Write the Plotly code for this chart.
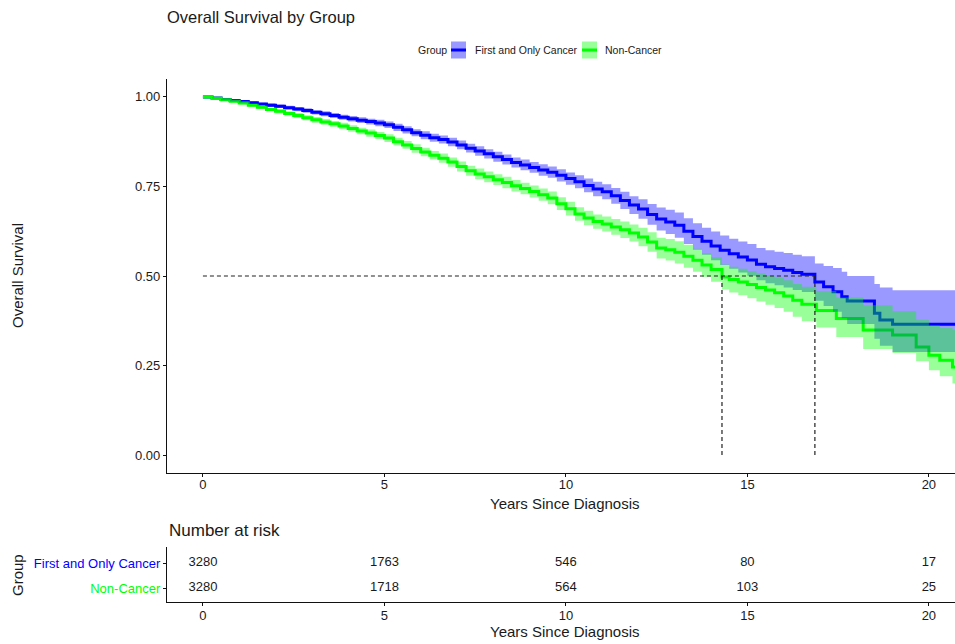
import plotly.graph_objects as go

# ---------------- data ----------------
group_names = ["First and Only Cancer", "Non-Cancer"]
legend_title = "Group"

blue_time = [0.00, 0.25, 0.50, 0.75, 1.00, 1.25, 1.50, 1.75, 2.00, 2.25, 2.50, 2.75,
             3.00, 3.25, 3.50, 3.75, 4.00, 4.25, 4.50, 4.75, 5.00, 5.25, 5.50, 5.75,
             6.00, 6.25, 6.50, 6.75, 7.00, 7.25, 7.50, 7.75, 8.00, 8.25, 8.50, 8.75,
             9.00, 9.25, 9.50, 9.75, 10.00, 10.25, 10.50, 10.75, 11.00, 11.25, 11.50, 11.75,
             12.00, 12.25, 12.50, 12.75, 13.00, 13.25, 13.50, 13.75, 14.00, 14.25, 14.50, 14.75,
             15.00, 15.25, 15.50, 15.75, 16.00, 16.25, 16.50, 16.86, 17.10, 17.36, 17.60, 17.75,
             18.50, 18.65, 19.00, 20.80]
blue_surv = [1.000, 0.997, 0.993, 0.990, 0.987, 0.984, 0.980, 0.977, 0.974, 0.970, 0.966, 0.962,
             0.957, 0.953, 0.948, 0.943, 0.939, 0.935, 0.931, 0.927, 0.922, 0.915, 0.908, 0.900,
             0.893, 0.886, 0.881, 0.874, 0.866, 0.857, 0.849, 0.841, 0.833, 0.825, 0.817, 0.810,
             0.803, 0.796, 0.790, 0.781, 0.772, 0.763, 0.753, 0.743, 0.735, 0.724, 0.711, 0.698,
             0.687, 0.672, 0.659, 0.651, 0.642, 0.625, 0.610, 0.597, 0.584, 0.572, 0.562, 0.553,
             0.545, 0.533, 0.526, 0.521, 0.516, 0.510, 0.505, 0.483, 0.470, 0.456, 0.442, 0.430,
             0.396, 0.377, 0.365, 0.365]
blue_lower = [1.000, 0.996, 0.991, 0.987, 0.984, 0.980, 0.976, 0.972, 0.969, 0.965, 0.960, 0.956,
              0.951, 0.946, 0.941, 0.936, 0.931, 0.927, 0.923, 0.918, 0.913, 0.905, 0.898, 0.890,
              0.882, 0.875, 0.870, 0.862, 0.854, 0.845, 0.836, 0.828, 0.819, 0.811, 0.803, 0.795,
              0.788, 0.780, 0.774, 0.764, 0.755, 0.745, 0.734, 0.723, 0.714, 0.702, 0.687, 0.673,
              0.660, 0.643, 0.627, 0.617, 0.607, 0.589, 0.573, 0.559, 0.544, 0.531, 0.520, 0.510,
              0.501, 0.488, 0.480, 0.474, 0.468, 0.461, 0.455, 0.431, 0.416, 0.400, 0.382, 0.366,
              0.325, 0.305, 0.288, 0.288]
blue_upper = [1.000, 0.998, 0.995, 0.993, 0.990, 0.988, 0.984, 0.982, 0.979, 0.975, 0.972, 0.968,
              0.963, 0.960, 0.955, 0.950, 0.947, 0.943, 0.939, 0.936, 0.931, 0.925, 0.918, 0.910,
              0.904, 0.897, 0.892, 0.886, 0.878, 0.869, 0.862, 0.854, 0.847, 0.839, 0.831, 0.825,
              0.818, 0.812, 0.806, 0.798, 0.789, 0.781, 0.772, 0.763, 0.756, 0.746, 0.735, 0.723,
              0.714, 0.701, 0.691, 0.685, 0.677, 0.661, 0.647, 0.635, 0.624, 0.613, 0.604, 0.596,
              0.589, 0.578, 0.572, 0.568, 0.564, 0.559, 0.555, 0.535, 0.528, 0.522, 0.512, 0.500,
              0.478, 0.468, 0.460, 0.460]

green_time = [0.00, 0.25, 0.50, 0.75, 1.00, 1.25, 1.50, 1.75, 2.00, 2.25, 2.50, 2.75,
              3.00, 3.25, 3.50, 3.75, 4.00, 4.25, 4.50, 4.75, 5.00, 5.25, 5.50, 5.75,
              6.00, 6.25, 6.50, 6.75, 7.00, 7.25, 7.50, 7.75, 8.00, 8.25, 8.50, 8.75,
              9.00, 9.25, 9.50, 9.75, 10.00, 10.25, 10.50, 10.75, 11.00, 11.25, 11.50, 11.75,
              12.00, 12.25, 12.50, 12.75, 13.00, 13.25, 13.50, 13.75, 14.00, 14.30, 14.50, 14.75,
              15.00, 15.25, 15.50, 15.75, 16.00, 16.25, 16.50, 16.90, 17.45, 18.19, 19.00, 19.65,
              20.00, 20.30, 20.65, 20.80]
green_surv = [1.000, 0.996, 0.992, 0.988, 0.983, 0.977, 0.971, 0.965, 0.960, 0.954, 0.948, 0.942,
              0.936, 0.930, 0.925, 0.919, 0.912, 0.905, 0.899, 0.892, 0.885, 0.875, 0.866, 0.856,
              0.846, 0.837, 0.829, 0.818, 0.806, 0.794, 0.785, 0.777, 0.769, 0.761, 0.752, 0.744,
              0.736, 0.727, 0.718, 0.702, 0.688, 0.673, 0.662, 0.652, 0.645, 0.637, 0.629, 0.620,
              0.609, 0.595, 0.578, 0.573, 0.566, 0.555, 0.544, 0.531, 0.518, 0.497, 0.490, 0.483,
              0.476, 0.468, 0.461, 0.453, 0.444, 0.432, 0.421, 0.404, 0.381, 0.349, 0.335, 0.302,
              0.279, 0.265, 0.246, 0.246]
green_lower = [1.000, 0.995, 0.990, 0.985, 0.979, 0.973, 0.966, 0.960, 0.954, 0.948, 0.941, 0.935,
               0.928, 0.922, 0.917, 0.910, 0.903, 0.896, 0.889, 0.882, 0.874, 0.864, 0.855, 0.844,
               0.834, 0.825, 0.816, 0.805, 0.792, 0.780, 0.770, 0.762, 0.754, 0.745, 0.736, 0.728,
               0.719, 0.710, 0.700, 0.684, 0.669, 0.654, 0.642, 0.632, 0.624, 0.615, 0.606, 0.596,
               0.583, 0.568, 0.549, 0.543, 0.535, 0.523, 0.512, 0.498, 0.484, 0.462, 0.454, 0.446,
               0.438, 0.429, 0.420, 0.411, 0.400, 0.386, 0.374, 0.356, 0.330, 0.296, 0.285, 0.262,
               0.237, 0.220, 0.200, 0.200]
green_upper = [1.000, 0.997, 0.994, 0.991, 0.987, 0.981, 0.976, 0.970, 0.966, 0.960, 0.955, 0.949,
               0.944, 0.938, 0.933, 0.928, 0.921, 0.914, 0.909, 0.902, 0.896, 0.886, 0.877, 0.868,
               0.858, 0.849, 0.842, 0.831, 0.820, 0.808, 0.800, 0.792, 0.784, 0.777, 0.768, 0.760,
               0.753, 0.744, 0.736, 0.720, 0.707, 0.692, 0.682, 0.672, 0.666, 0.659, 0.652, 0.644,
               0.635, 0.622, 0.607, 0.603, 0.597, 0.587, 0.576, 0.564, 0.552, 0.532, 0.526, 0.520,
               0.514, 0.507, 0.502, 0.495, 0.488, 0.478, 0.470, 0.458, 0.440, 0.418, 0.402, 0.378,
               0.362, 0.355, 0.350, 0.350]

risk_times = [0, 5, 10, 15, 20]
risk_first = [3280, 1763, 546, 80, 17]
risk_non = [3280, 1718, 564, 103, 25]

x_ticks = [0, 5, 10, 15, 20]
y_ticks = [0.0, 0.25, 0.5, 0.75, 1.0]
y_tick_labels = ["0.00", "0.25", "0.50", "0.75", "1.00"]

# ---------------- style ----------------
BLUE = "#0000FF"
GREEN = "#00FF00"
BLUE_FILL = "rgba(0,0,255,0.4)"
GREEN_FILL = "rgba(0,255,0,0.4)"
FONT = "Liberation Sans, Arial, sans-serif"
INK = "#1a1a1a"

W, H = 955, 644
ML, MR, MT, MB = 167, 0, 79, 42
PW, PH = W - ML - MR, H - MT - MB


def px_x(px):
    """reference-image pixel x -> paper x"""
    return (px - ML) / PW


def px_y(py):
    """reference-image pixel y -> paper y"""
    return (H - MB - py) / PH


def median_time(t, s):
    for ti, si in zip(t, s):
        if si <= 0.5:
            return ti
    return None


fig = go.Figure()

# survival lines first (ribbons drawn over them, as in the reference)
fig.add_trace(go.Scatter(x=blue_time, y=blue_surv, mode="lines", line=dict(color=BLUE, width=3, shape="hv"),
                         name=group_names[0], showlegend=False, hoverinfo="skip"))
fig.add_trace(go.Scatter(x=green_time, y=green_surv, mode="lines", line=dict(color=GREEN, width=3, shape="hv"),
                         name=group_names[1], showlegend=False, hoverinfo="skip"))
# ribbons
fig.add_trace(go.Scatter(x=blue_time, y=blue_lower, mode="lines", line=dict(width=0, shape="hv", color=BLUE),
                         showlegend=False, hoverinfo="skip"))
fig.add_trace(go.Scatter(x=blue_time, y=blue_upper, mode="lines", line=dict(width=0, shape="hv", color=BLUE),
                         fill="tonexty", fillcolor=BLUE_FILL, showlegend=False, hoverinfo="skip"))
fig.add_trace(go.Scatter(x=green_time, y=green_lower, mode="lines", line=dict(width=0, shape="hv", color=GREEN),
                         showlegend=False, hoverinfo="skip"))
fig.add_trace(go.Scatter(x=green_time, y=green_upper, mode="lines", line=dict(width=0, shape="hv", color=GREEN),
                         fill="tonexty", fillcolor=GREEN_FILL, showlegend=False, hoverinfo="skip"))

# risk table
fig.add_trace(go.Scatter(x=risk_times, y=[2] * len(risk_times), mode="text",
                         text=[str(v) for v in risk_first], textfont=dict(size=13, color=INK, family=FONT),
                         xaxis="x2", yaxis="y2", showlegend=False, hoverinfo="skip"))
fig.add_trace(go.Scatter(x=risk_times, y=[1] * len(risk_times), mode="text",
                         text=[str(v) for v in risk_non], textfont=dict(size=13, color=INK, family=FONT),
                         xaxis="x2", yaxis="y2", showlegend=False, hoverinfo="skip"))

# median lines
med_b = median_time(blue_time, blue_surv)
med_g = median_time(green_time, green_surv)
dash = dict(color="#222222", width=1.2, dash="4px,3px")
shapes = [
    dict(type="line", xref="x", yref="y", x0=0, x1=max(med_b, med_g), y0=0.5, y1=0.5, line=dash),
    dict(type="line", xref="x", yref="y", x0=med_g, x1=med_g, y0=0, y1=0.5, line=dash),
    dict(type="line", xref="x", yref="y", x0=med_b, x1=med_b, y0=0, y1=0.5, line=dash),
]

# manual legend (ggplot style: filled key with line)
key_y0, key_y1 = px_y(58.5), px_y(41.5)
for (kx0, kx1), fc, lc in [((451, 466), BLUE_FILL, BLUE), ((582, 597), GREEN_FILL, GREEN)]:
    shapes.append(dict(type="rect", xref="paper", yref="paper", x0=px_x(kx0), x1=px_x(kx1),
                       y0=key_y0, y1=key_y1, fillcolor=fc, line=dict(width=0)))
    shapes.append(dict(type="line", xref="paper", yref="paper", x0=px_x(kx0), x1=px_x(kx1),
                       y0=px_y(50), y1=px_y(50), line=dict(color=lc, width=3)))

annotations = [
    dict(text=legend_title, x=px_x(416), y=px_y(50), xref="paper", yref="paper", xanchor="left",
         yanchor="middle", showarrow=False, font=dict(size=10.5, color=INK, family=FONT)),
    dict(text=group_names[0], x=px_x(473), y=px_y(50), xref="paper", yref="paper", xanchor="left",
         yanchor="middle", showarrow=False, font=dict(size=10.5, color=INK, family=FONT)),
    dict(text=group_names[1], x=px_x(603), y=px_y(50), xref="paper", yref="paper", xanchor="left",
         yanchor="middle", showarrow=False, font=dict(size=10.5, color=INK, family=FONT)),
    dict(text="Overall Survival", x=px_x(17), y=px_y(276), xref="paper", yref="paper", textangle=-90,
         xanchor="center", yanchor="middle", showarrow=False, font=dict(size=15, color=INK, family=FONT)),
    dict(text="Years Since Diagnosis", x=px_x(565), y=px_y(503), xref="paper", yref="paper",
         xanchor="center", yanchor="middle", showarrow=False, font=dict(size=15, color=INK, family=FONT)),
    dict(text="Number at risk", x=0, y=px_y(530), xref="paper", yref="paper",
         xanchor="left", yanchor="middle", showarrow=False, font=dict(size=17, color=INK, family=FONT)),
    dict(text="Group", x=px_x(17), y=px_y(575), xref="paper", yref="paper", textangle=-90,
         xanchor="center", yanchor="middle", showarrow=False, font=dict(size=15, color=INK, family=FONT)),
    dict(text="Years Since Diagnosis", x=px_x(565), y=px_y(631), xref="paper", yref="paper",
         xanchor="center", yanchor="middle", showarrow=False, font=dict(size=15, color=INK, family=FONT)),
]

axis_common = dict(showgrid=False, zeroline=False, showline=True, linecolor="#111111", linewidth=1.2,
                   ticks="outside", ticklen=3, tickcolor="#111111", tickwidth=1,
                   tickfont=dict(size=13, color=INK, family=FONT))

fig.update_layout(
    width=W, height=H,
    margin=dict(l=ML, r=MR, t=MT, b=MB),
    paper_bgcolor="white", plot_bgcolor="white",
    font=dict(family=FONT, color=INK),
    title=dict(text="Overall Survival by Group", x=167 / W, xref="container",
               xanchor="left", y=1 - 17 / H, yanchor="middle",
               font=dict(size=16.5, color=INK, family=FONT)),
    xaxis=dict(domain=[0, 1], range=[-0.99, 20.72], tickvals=x_ticks, anchor="y",
               ticklabelstandoff=-4, **axis_common),
    yaxis=dict(domain=[px_y(473), 1], range=[-0.05, 1.05], tickvals=y_ticks, ticktext=y_tick_labels,
               anchor="x", **axis_common),
    xaxis2=dict(domain=[0, 1], range=[-0.99, 20.72], tickvals=x_ticks, anchor="y2",
                ticklabelstandoff=-2, **axis_common),
    yaxis2=dict(domain=[0, px_y(547)], range=[0.44, 2.64], tickvals=[1, 2],
                ticktext=['<span style="color:%s">%s</span>' % (GREEN, group_names[1]),
                          '<span style="color:%s">%s</span>' % (BLUE, group_names[0])],
                anchor="x2", **axis_common),
    shapes=shapes,
    annotations=annotations,
    showlegend=False,
)

# remove the page's default body margin so the figure sits at the window's top-left corner
fig.write_html("out.html",
               config={"displayModeBar": False},
               post_script="document.body.style.margin='0';document.body.style.overflow='hidden';")
